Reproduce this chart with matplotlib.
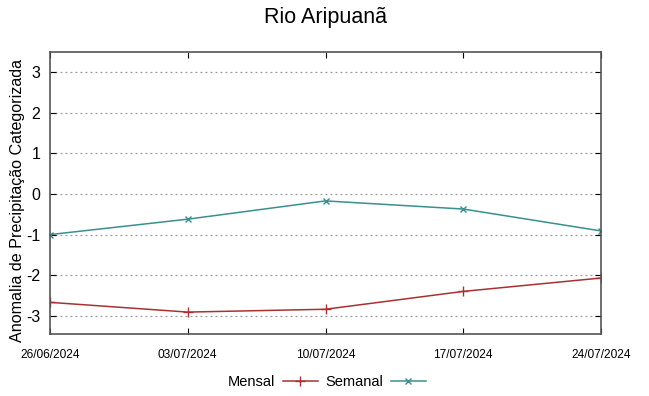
import matplotlib.pyplot as plt

plt.rcParams['font.family'] = ['Liberation Sans', 'DejaVu Sans']
plt.rcParams['axes.unicode_minus'] = False

dates = ['26/06/2024', '03/07/2024', '10/07/2024', '17/07/2024', '24/07/2024']
mensal = [-2.67, -2.91, -2.84, -2.40, -2.07]
semanal = [-1.00, -0.62, -0.17, -0.37, -0.91]

fig = plt.figure(figsize=(6.49, 3.96), dpi=100)
ax = fig.add_axes([50 / 649, 62 / 396, 551 / 649, 282 / 396])

x = list(range(len(dates)))
ax.plot(x, mensal, color='#a83232', marker='+', markersize=7, linewidth=1.1, label='Mensal')
ax.plot(x, semanal, color='#3a8f8f', marker='x', markersize=5, linewidth=1.1, label='Semanal')

ax.set_xlim(0, len(dates) - 1)
ax.set_ylim(-3.45, 3.5)
ax.set_yticks([-3, -2, -1, 0, 1, 2, 3])
ax.set_xticks(x)
ax.set_xticklabels(dates, fontsize=8.6)
ax.tick_params(axis='y', labelsize=11.5, direction='in', right=True, length=4, pad=7)
ax.tick_params(axis='x', direction='in', top=True, length=4, pad=11)
ax.grid(axis='y', linestyle=(0, (1.5, 2.5)), color='#999999', linewidth=0.9)

for s in ax.spines.values():
    s.set_color('#555555')
    s.set_linewidth(1.2)

fig.text(18 / 649, 1 - 200 / 396, 'Anomalia de Precipitação Categorizada', fontsize=11.6,
         rotation=90, ha='center', va='center')
fig.text(325 / 649, 1 - 18 / 396, 'Rio Aripuanã', fontsize=15.5, ha='center', va='center')

fig.legend(loc='center', bbox_to_anchor=(327 / 649, 1 - 382 / 396), ncol=2, frameon=False,
           markerfirst=False, fontsize=10.5, handlelength=2.4, columnspacing=0.55, handletextpad=0.5)

fig.savefig('out.png', dpi=100)
